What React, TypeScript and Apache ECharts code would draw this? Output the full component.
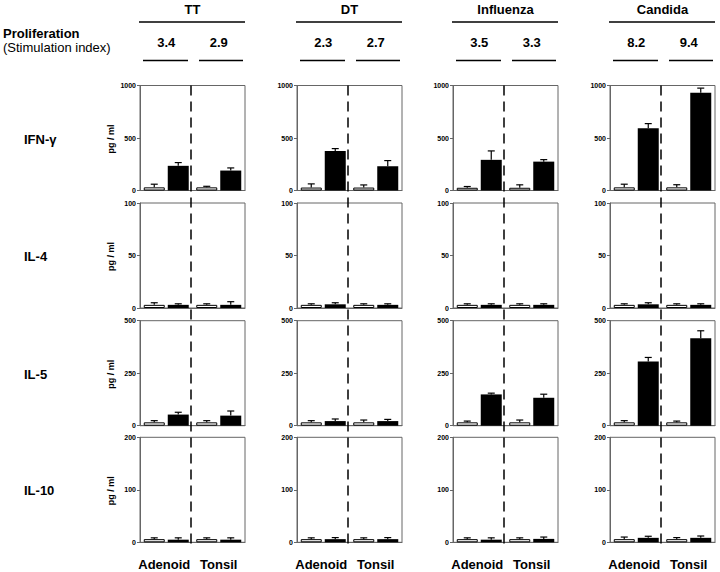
import React, { useEffect, useRef } from "react";
import * as echarts from "echarts";

const antigens = ["TT", "DT", "Influenza", "Candida"];
const prolifAdenoid = ["3.4", "2.3", "3.5", "8.2"];
const prolifTonsil = ["2.9", "2.7", "3.3", "9.4"];
const tissues = ["Adenoid", "Tonsil"];
const cytokines = ["IFN-γ", "IL-4", "IL-5", "IL-10"];
const yMax = [1000, 100, 500, 200];

// [cytokine][antigen][tissue]
const openVals = [
  [[30, 30], [28, 28], [26, 26], [30, 30]],
  [[3, 3], [3, 3], [3, 3], [3, 3]],
  [[16, 16], [16, 16], [16, 16], [16, 16]],
  [[6, 6], [6, 6], [6, 6], [6, 6]],
];
const openErr = [
  [[60, 40], [63, 53], [38, 54], [60, 55]],
  [[5, 4], [4, 4], [4, 4], [4, 4]],
  [[24, 24], [24, 27], [22, 27], [24, 22]],
  [[8.5, 8.5], [8.5, 8.5], [8.5, 8.5], [10, 9]],
];
const filledVals = [
  [[235, 190], [376, 231], [292, 275], [594, 930]],
  [[3, 3], [3.5, 3], [3, 3], [3.5, 3]],
  [[53, 48], [22, 22], [149, 133], [306, 416]],
  [[5, 5], [6, 6], [5, 6.5], [8.5, 8.5]],
];
const filledErr = [
  [[266, 215], [399, 285], [377, 294], [637, 975]],
  [[4, 6], [5, 4], [4, 4], [5, 4]],
  [[64, 70], [32, 30], [155, 150], [325, 452]],
  [[8.5, 8.5], [9, 9], [8.5, 10], [11.5, 12]],
];

const FONT = "'Liberation Sans', Arial, Helvetica, sans-serif";
const colLeft = [140, 297, 453, 610];
const rowTop = [85.5, 203, 320.7, 437.3];
const GW = 105;
const GH = 105;
const BAR_W = 21;
const BAR_GAP = 3;
const FRAME = "#666";

export default function App() {
  const ref = useRef<HTMLDivElement>(null);
  useEffect(() => {
    if (!ref.current) return;
    const chart = echarts.init(ref.current, null, { renderer: "svg" });
    const grid: any[] = [];
    const xAxis: any[] = [];
    const yAxis: any[] = [];
    const series: any[] = [];
    const graphic: any[] = [];
    const off = (BAR_W + BAR_GAP) / 2;

    let gi = 0;
    for (let r = 0; r < 4; r++) {
      for (let c = 0; c < 4; c++) {
        grid.push({
          left: colLeft[c],
          top: rowTop[r],
          width: GW,
          height: GH,
          show: true,
          borderColor: FRAME,
          borderWidth: 1,
          backgroundColor: "transparent",
        });
        xAxis.push({
          type: "category",
          gridIndex: gi,
          data: tissues,
          axisLine: { show: true, lineStyle: { color: FRAME } },
          axisTick: { show: false },
          axisLabel: { show: false },
        });
        yAxis.push({
          type: "value",
          gridIndex: gi,
          min: 0,
          max: yMax[r],
          interval: yMax[r] / 2,
          axisLine: { show: true, lineStyle: { color: FRAME } },
          axisTick: { show: true, length: 3, lineStyle: { color: FRAME } },
          splitLine: { show: false },
          axisLabel: {
            fontSize: 7,
            fontWeight: "bold",
            color: "#000",
            fontFamily: FONT,
            margin: 4,
            formatter: (v: number) => String(v),
          },
        });
        series.push({
          type: "bar",
          name: "open",
          xAxisIndex: gi,
          yAxisIndex: gi,
          data: openVals[r][c],
          barWidth: BAR_W,
          barGap: (BAR_GAP / BAR_W) * 100 + "%",
          itemStyle: { color: "#fff", borderColor: "#000", borderWidth: 1 },
          silent: true,
        });
        series.push({
          type: "bar",
          name: "filled",
          xAxisIndex: gi,
          yAxisIndex: gi,
          data: filledVals[r][c],
          barWidth: BAR_W,
          itemStyle: { color: "#000" },
          silent: true,
        });
        const errData: any[] = [];
        for (let t = 0; t < 2; t++) {
          errData.push([t, openVals[r][c][t], openErr[r][c][t], -1]);
          errData.push([t, filledVals[r][c][t], filledErr[r][c][t], 1]);
        }
        series.push({
          type: "custom",
          xAxisIndex: gi,
          yAxisIndex: gi,
          z: 5,
          silent: true,
          data: errData,
          renderItem: (params: any, api: any) => {
            const x = api.value(0);
            const v = api.value(1);
            const e = api.value(2);
            const side = api.value(3);
            const p1 = api.coord([x, v]);
            const p2 = api.coord([x, e]);
            const px = p1[0] + side * off;
            return {
              type: "group",
              children: [
                {
                  type: "line",
                  shape: { x1: px, y1: p1[1], x2: px, y2: p2[1] },
                  style: { stroke: "#000", lineWidth: 1.2 },
                },
                {
                  type: "line",
                  shape: { x1: px - 3.5, y1: p2[1], x2: px + 3.5, y2: p2[1] },
                  style: { stroke: "#000", lineWidth: 1.2 },
                },
              ],
            };
          },
        });
        gi++;
      }
    }

    // header
    graphic.push({
      type: "text",
      left: 3,
      top: 27,
      style: { text: "Proliferation", font: `bold 13px ${FONT}`, fill: "#000" },
    });
    graphic.push({
      type: "text",
      left: 3,
      top: 41,
      style: { text: "(Stimulation index)", font: `13px ${FONT}`, fill: "#000" },
    });
    for (let c = 0; c < 4; c++) {
      const L = colLeft[c];
      const cx = L + GW / 2;
      const c1 = L + GW / 4;
      const c2 = L + (3 * GW) / 4;
      graphic.push({
        type: "text",
        x: cx,
        y: 9,
        style: {
          text: antigens[c],
          font: `bold 13px ${FONT}`,
          fill: "#000",
          align: "center",
          verticalAlign: "middle",
        },
      });
      graphic.push({
        type: "line",
        shape: { x1: L - 1, y1: 22, x2: L + GW, y2: 22 },
        style: { stroke: "#000", lineWidth: 1.3 },
      });
      graphic.push({
        type: "text",
        x: c1,
        y: 42,
        style: {
          text: prolifAdenoid[c],
          font: `bold 13px ${FONT}`,
          fill: "#000",
          align: "center",
          verticalAlign: "middle",
        },
      });
      graphic.push({
        type: "text",
        x: c2,
        y: 42,
        style: {
          text: prolifTonsil[c],
          font: `bold 13px ${FONT}`,
          fill: "#000",
          align: "center",
          verticalAlign: "middle",
        },
      });
      graphic.push({
        type: "line",
        shape: { x1: L + 3, y1: 60.5, x2: L + 48, y2: 60.5 },
        style: { stroke: "#000", lineWidth: 1.3 },
      });
      graphic.push({
        type: "line",
        shape: { x1: L + 59, y1: 60.5, x2: L + 103, y2: 60.5 },
        style: { stroke: "#000", lineWidth: 1.3 },
      });
      // dashed separator
      graphic.push({
        type: "line",
        z: 10,
        shape: { x1: cx - 1.5, y1: rowTop[0], x2: cx - 1.5, y2: rowTop[3] + GH + 6 },
        style: { stroke: "#000", lineWidth: 1.5, lineDash: [10, 6] },
      });
      // bottom labels
      for (let t = 0; t < 2; t++) {
        graphic.push({
          type: "text",
          x: t === 0 ? c1 - 2 : c2,
          y: 564,
          style: {
            text: tissues[t],
            font: `bold 13px ${FONT}`,
            fill: "#000",
            align: "center",
            verticalAlign: "middle",
          },
        });
      }
    }
    for (let r = 0; r < 4; r++) {
      const cy = rowTop[r] + GH / 2;
      graphic.push({
        type: "text",
        x: 24,
        y: cy + 1,
        style: {
          text: cytokines[r],
          font: `bold 13px ${FONT}`,
          fill: "#000",
          align: "left",
          verticalAlign: "middle",
        },
      });
      graphic.push({
        type: "text",
        x: 111,
        y: cy + 1,
        rotation: Math.PI / 2,
        style: {
          text: "pg / ml",
          font: `bold 9px ${FONT}`,
          fill: "#000",
          align: "center",
          verticalAlign: "middle",
        },
      });
    }

    chart.setOption({
      animation: false,
      backgroundColor: "#fff",
      grid,
      xAxis,
      yAxis,
      series,
      graphic,
    });
    return () => chart.dispose();
  }, []);
  return (
    <div
      ref={ref}
      style={{ position: "fixed", left: 0, top: 0, width: 720, height: 572 }}
    />
  );
}
